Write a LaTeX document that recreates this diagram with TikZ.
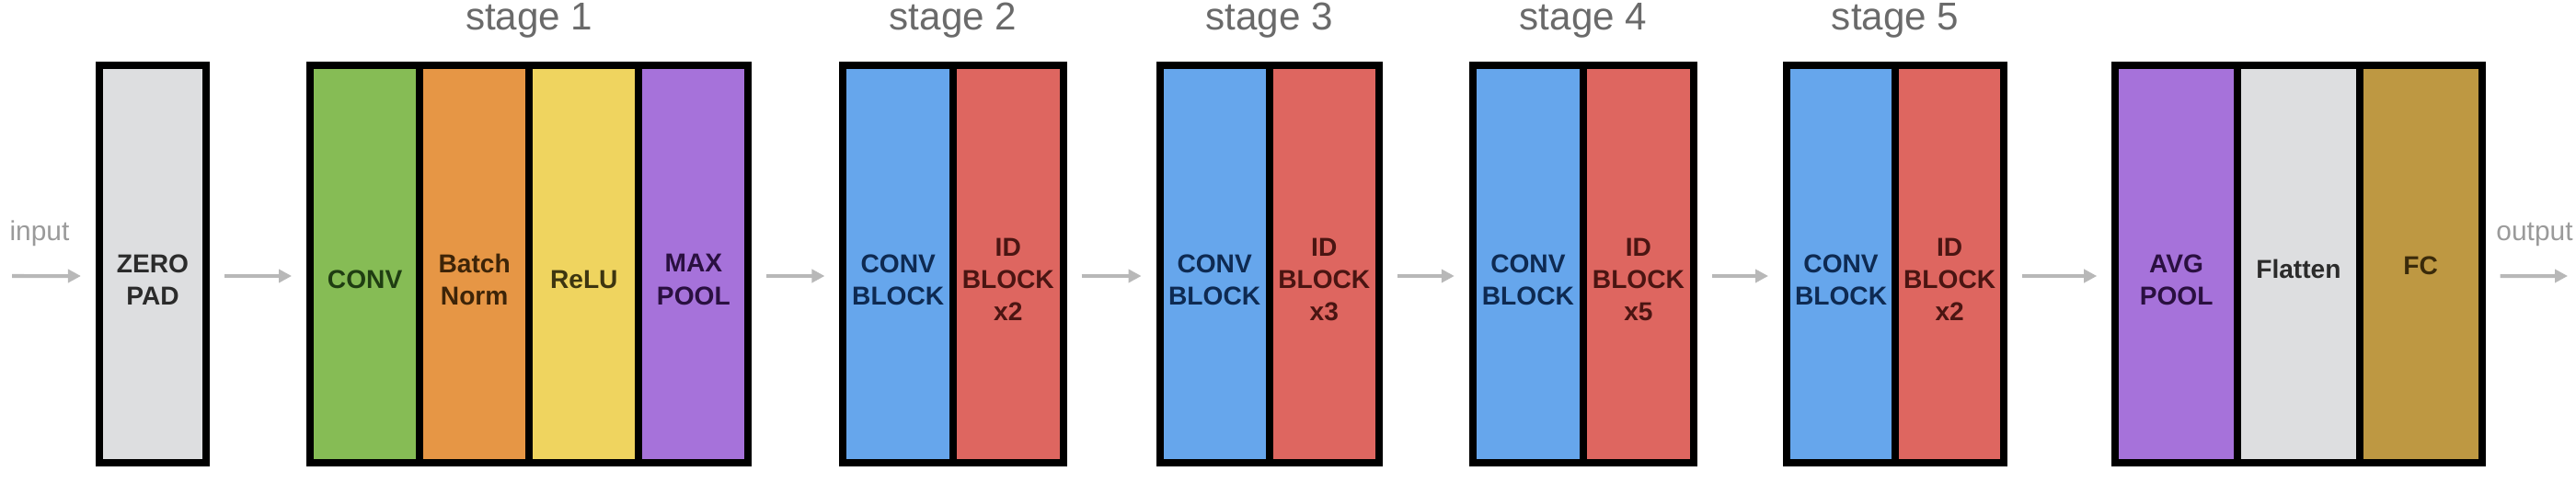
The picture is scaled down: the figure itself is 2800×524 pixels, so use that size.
\documentclass[tikz,border=0pt]{standalone}
\usepackage{fontspec}
\setmainfont{Liberation Sans}
\usetikzlibrary{positioning,calc}
\usetikzlibrary{arrows.meta}

\definecolor{padgray}{HTML}{DDDEE0}
\definecolor{convgreen}{HTML}{86BC55}
\definecolor{bnorange}{HTML}{E69645}
\definecolor{reluyellow}{HTML}{EFD45F}
\definecolor{poolpurple}{HTML}{A672DA}
\definecolor{blockblue}{HTML}{66A6EC}
\definecolor{idred}{HTML}{DE6660}
\definecolor{fcgold}{HTML}{BE9842}
\definecolor{padtxt}{HTML}{2B2B2B}
\definecolor{convtxt}{HTML}{1F3D12}
\definecolor{bntxt}{HTML}{3D2408}
\definecolor{relutxt}{HTML}{3D3510}
\definecolor{pooltxt}{HTML}{2A1040}
\definecolor{blocktxt}{HTML}{0E2A52}
\definecolor{idtxt}{HTML}{4A1512}
\definecolor{fctxt}{HTML}{3A2A0A}
\definecolor{stagegray}{HTML}{6A6A6A}
\definecolor{iogray}{HTML}{9A9A9A}
\definecolor{arrowgray}{HTML}{B8B8B8}

\begin{document}
\begin{tikzpicture}[x=0.01cm,y=0.01cm,
         layer/.style = {draw=black,line width=0.08cm,minimum width=1.19cm,
         minimum height=4.32cm,inner sep=0pt,outer sep=0pt},
         lbl/.style = {font=\fontsize{8}{10}\selectfont\bfseries,align=center},
         stagelbl/.style = {font=\fontsize{12}{14}\selectfont,text=stagegray,anchor=base},
         iolbl/.style = {font=\fontsize{8.5}{10}\selectfont,text=iogray,anchor=base},
         flow/.style = {draw=arrowgray,line width=0.04cm,
         -{Triangle[length=0.14cm,width=0.14cm]},shorten <=0.2cm,shorten >=0.2cm}
]
      \useasboundingbox (0,0) rectangle (2800,524);

      % boxes
      \node[layer,fill=padgray,minimum width=1.16cm] (zp) at (166,237) {};

      \node[layer,fill=convgreen,right=1.13cm of zp] (s1conv) {};
      \node[layer,fill=bnorange,right=0cm of s1conv] (s1bn) {};
      \node[layer,fill=reluyellow,right=0cm of s1bn] (s1relu) {};
      \node[layer,fill=poolpurple,right=0cm of s1relu] (s1pool) {};

      \node[layer,fill=blockblue,minimum width=1.195cm,right=1.03cm of s1pool] (s2conv) {};
      \node[layer,fill=idred,minimum width=1.195cm,right=0cm of s2conv] (s2id) {};

      \node[layer,fill=blockblue,right=1.05cm of s2id] (s3conv) {};
      \node[layer,fill=idred,right=0cm of s3conv] (s3id) {};

      \node[layer,fill=blockblue,minimum width=1.20cm,right=1.02cm of s3id] (s4conv) {};
      \node[layer,fill=idred,minimum width=1.20cm,right=0cm of s4conv] (s4id) {};

      \node[layer,fill=blockblue,minimum width=1.18cm,right=1.01cm of s4id] (s5conv) {};
      \node[layer,fill=idred,minimum width=1.18cm,right=0cm of s5conv] (s5id) {};

      \node[layer,fill=poolpurple,minimum width=1.327cm,right=1.21cm of s5id] (avg) {};
      \node[layer,fill=padgray,minimum width=1.327cm,right=0cm of avg] (flat) {};
      \node[layer,fill=fcgold,minimum width=1.327cm,right=0cm of flat] (fc) {};

      % box texts
      \node[lbl,text=padtxt] (tzp) at ([yshift=-0.17cm]zp.center) {ZERO\\PAD};
      \node[lbl,text=convtxt] (ts1conv) at ([yshift=-0.17cm]s1conv.center) {CONV};
      \node[lbl,text=bntxt] (ts1bn) at ([yshift=-0.17cm]s1bn.center) {Batch\\Norm};
      \node[lbl,text=relutxt] (ts1relu) at ([yshift=-0.17cm]s1relu.center) {ReLU};
      \node[lbl,text=pooltxt] (ts1pool) at ([yshift=-0.17cm]s1pool.center) {MAX\\POOL};
      \node[lbl,text=blocktxt] (ts2conv) at ([yshift=-0.17cm]s2conv.center) {CONV\\BLOCK};
      \node[lbl,text=idtxt] (ts2id) at ([yshift=-0.17cm]s2id.center) {ID\\BLOCK\\x2};
      \node[lbl,text=blocktxt] (ts3conv) at ([yshift=-0.17cm]s3conv.center) {CONV\\BLOCK};
      \node[lbl,text=idtxt] (ts3id) at ([yshift=-0.17cm]s3id.center) {ID\\BLOCK\\x3};
      \node[lbl,text=blocktxt] (ts4conv) at ([yshift=-0.17cm]s4conv.center) {CONV\\BLOCK};
      \node[lbl,text=idtxt] (ts4id) at ([yshift=-0.17cm]s4id.center) {ID\\BLOCK\\x5};
      \node[lbl,text=blocktxt] (ts5conv) at ([yshift=-0.17cm]s5conv.center) {CONV\\BLOCK};
      \node[lbl,text=idtxt] (ts5id) at ([yshift=-0.17cm]s5id.center) {ID\\BLOCK\\x2};
      \node[lbl,text=pooltxt] (tavg) at ([yshift=-0.17cm]avg.center) {AVG\\POOL};
      \node[lbl,text=padtxt] (tflat) at ([yshift=-0.05cm]flat.center) {Flatten};
      \node[lbl,text=fctxt] (tfc) at ([yshift=-0.02cm]fc.center) {FC};

      % stage titles
      \node[stagelbl] (st1) at ([yshift=0.38cm]s1bn.north east) {stage 1};
      \node[stagelbl] (st2) at ([yshift=0.38cm]s2conv.north east) {stage 2};
      \node[stagelbl] (st3) at ([yshift=0.38cm]s3conv.north east) {stage 3};
      \node[stagelbl] (st4) at ([yshift=0.38cm]s4conv.north east) {stage 4};
      \node[stagelbl] (st5) at ([yshift=0.38cm]s5conv.north east) {stage 5};

      % input / output
      \coordinate (in) at (13,224);
      \coordinate (out) at (2791,224);
      \node[iolbl] (inlbl) at (43,262) {input};
      \node[iolbl] (outlbl) at (2755,262) {output};

      % arrows
      \draw[flow,shorten <=0pt] (in) -- ([yshift=-0.13cm]zp.west);
      \draw[flow] ([yshift=-0.13cm]zp.east) -- ([yshift=-0.13cm]s1conv.west);
      \draw[flow] ([yshift=-0.13cm]s1pool.east) -- ([yshift=-0.13cm]s2conv.west);
      \draw[flow] ([yshift=-0.13cm]s2id.east) -- ([yshift=-0.13cm]s3conv.west);
      \draw[flow] ([yshift=-0.13cm]s3id.east) -- ([yshift=-0.13cm]s4conv.west);
      \draw[flow] ([yshift=-0.13cm]s4id.east) -- ([yshift=-0.13cm]s5conv.west);
      \draw[flow] ([yshift=-0.13cm]s5id.east) -- ([yshift=-0.13cm]avg.west);
      \draw[flow,shorten >=0pt] ([yshift=-0.13cm]fc.east) -- (out);
\end{tikzpicture}
\end{document}
